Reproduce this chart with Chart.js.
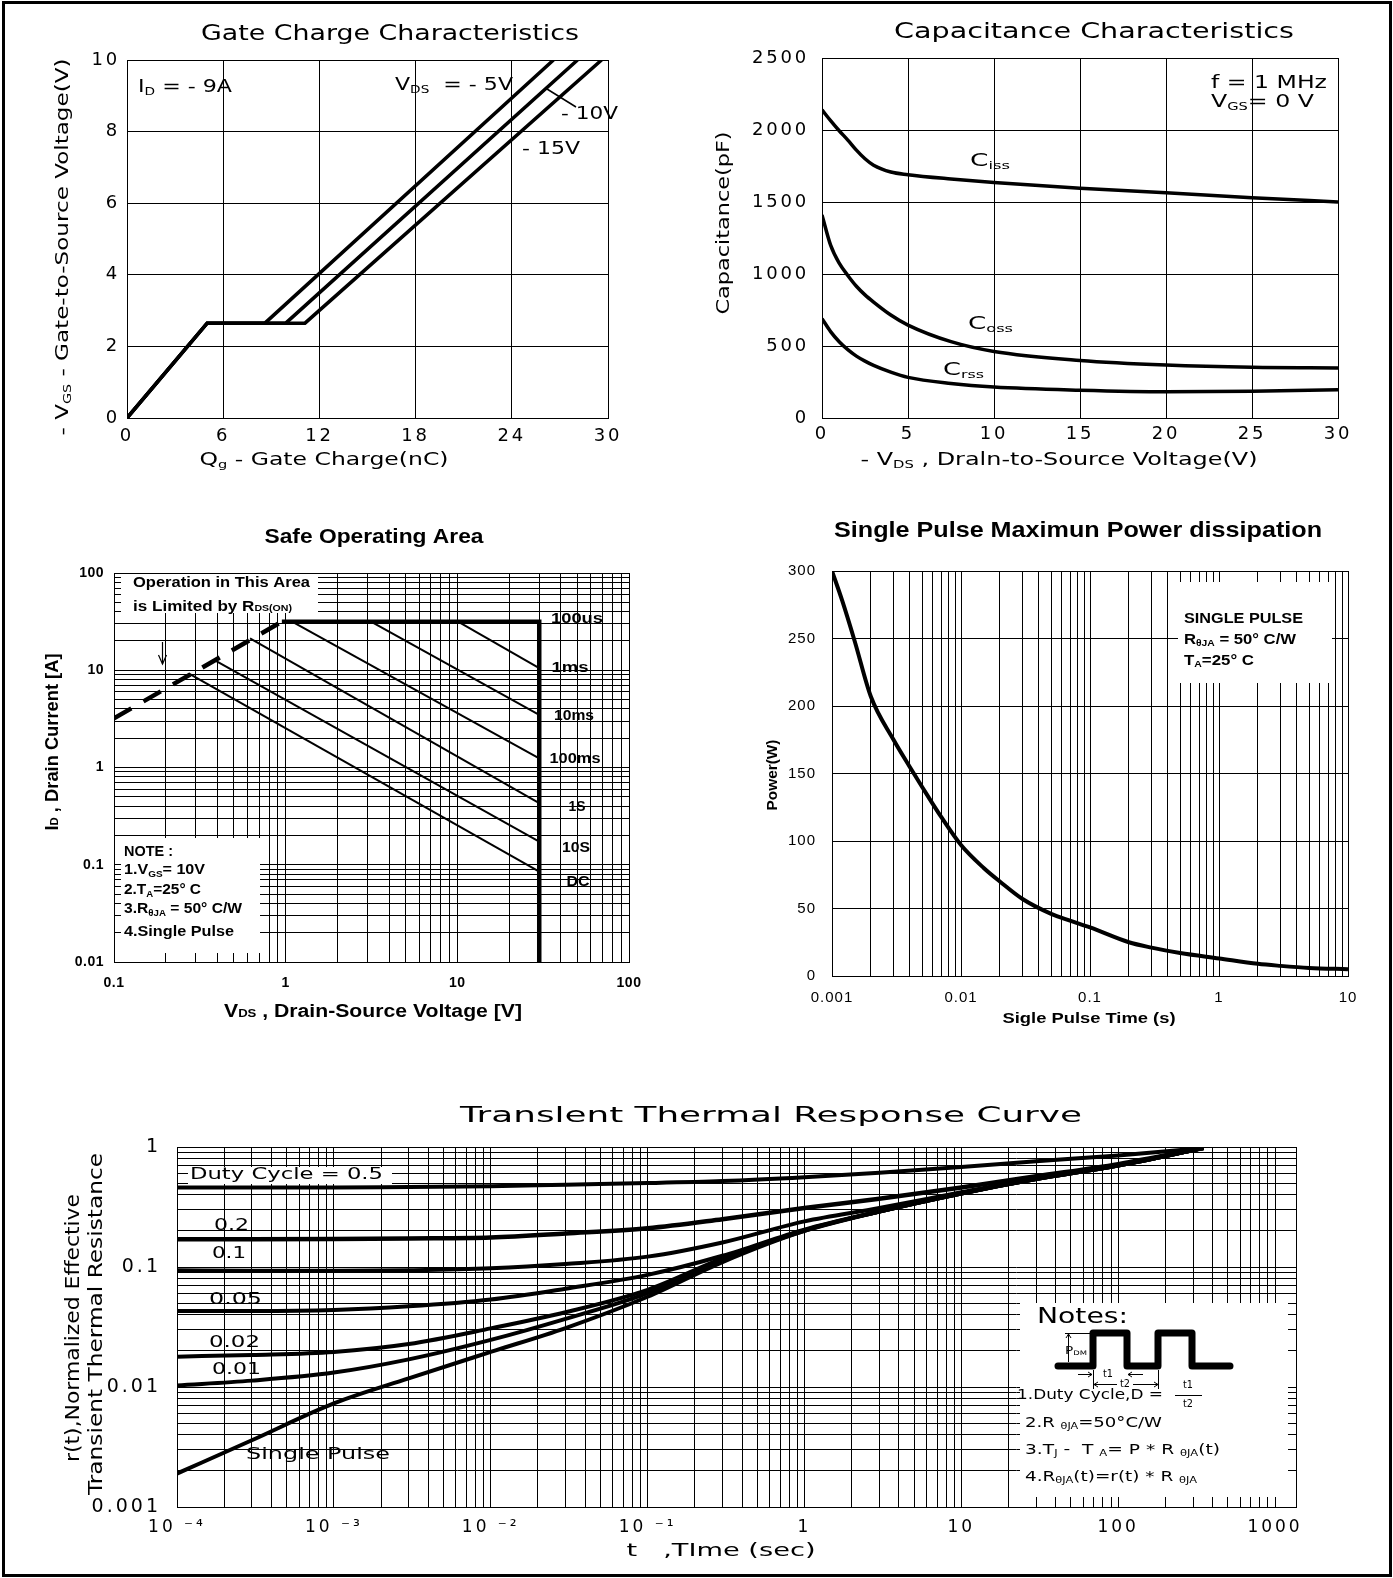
<!DOCTYPE html>
<html>
<head>
<meta charset="utf-8">
<title>MOSFET characteristics</title>
<script src="https://cdn.jsdelivr.net/npm/chart.js@4.4.1/dist/chart.umd.min.js"></script>
<style>
  body { margin: 0; background: #fff; }
  #page { position: relative; width: 1393px; height: 1578px; overflow: hidden; background: #fff; }
  #page canvas { position: absolute; left: 0; top: 0; }
  #frame { position: absolute; left: 2px; top: 1px; width: 1390px; height: 1576px; border: 3px solid #000; box-sizing: border-box; }
</style>
</head>
<body>
<div id="page">
  <canvas id="gate" width="1393" height="1578"></canvas>
  <canvas id="cap" width="1393" height="1578"></canvas>
  <canvas id="soa" width="1393" height="1578"></canvas>
  <canvas id="power" width="1393" height="1578"></canvas>
  <canvas id="trans" width="1393" height="1578"></canvas>
  <div id="frame"></div>
</div>
<script>
//Gate charge (Qg nC -> Vgs V), one x list per Vds curve
const gateQ5 = [0, 5, 8.6, 26.6];
const gateQ10 = [0, 5, 9.9, 28.1];
const gateQ15 = [0, 5, 11.1, 29.6];
const gateVgs = [0, 2.65, 2.65, 10];

//Capacitance (pF) vs -Vds
const capVds = [0, 0.5, 1, 1.5, 2, 2.5, 3, 4, 5, 7.5, 10, 15, 20, 25, 30];
const ciss = [2140, 2065, 1995, 1930, 1860, 1800, 1755, 1708, 1690, 1660, 1635, 1595, 1565, 1530, 1500];
const coss = [1410, 1200, 1075, 990, 915, 855, 805, 715, 645, 530, 462, 400, 368, 352, 348];
const crss = [690, 600, 530, 475, 430, 395, 365, 318, 282, 240, 215, 193, 182, 186, 196];

//Safe operating area (Vds V, Id A)
const soaRdsV = [0.1, 0.95];
const soaRdsI = [3.2, 31.6];
const soaLimV = [0.95, 30, 30];
const soaLimI = [31.6, 31.6, 0.01];
const soa1msV = [10.1, 30];
const soa1msI = [31.6, 10.5];
const soa10msV = [3.14, 30];
const soa10msI = [31.6, 3.47];
const soa100msV = [1.09, 30];
const soa100msI = [31.6, 1.24];
const soa1sV = [0.62, 30];
const soa1sI = [21.3, 0.43];
const soa10sV = [0.385, 30];
const soa10sI = [12.7, 0.173];
const soaDcV = [0.272, 30];
const soaDcI = [9.3, 0.085];
const soaXDecades = [0.1, 1, 10, 100];
const soaXLabels = ["0.1", "1", "10", "100"];
const soaYDecades = [0.01, 0.1, 1, 10, 100];
const soaYLabels = ["0.01", "0.1", "1", "10", "100"];

//Single pulse power
const powT = [0.001, 0.0012, 0.0015, 0.002, 0.003, 0.004, 0.005, 0.007, 0.01, 0.015, 0.02, 0.03, 0.05, 0.07, 0.1, 0.2, 0.3, 0.5, 1, 2, 3, 5, 10];
const powP = [300, 278, 248, 207, 175, 155, 140, 118, 97, 80, 70, 57, 46, 41, 36, 25, 21, 17, 13, 9, 7.5, 6, 5];
const powXDecades = [0.001, 0.01, 0.1, 1, 10];
const powXLabels = ["0.001", "0.01", "0.1", "1", "10"];

//Transient thermal response
const trT = [1e-4, 3e-4, 1e-3, 3e-3, 1e-2, 3e-2, 0.1, 0.3, 1, 3, 10, 30, 100, 350];
const trD05 = [0.46, 0.46, 0.46, 0.465, 0.47, 0.485, 0.5, 0.52, 0.56, 0.61, 0.68, 0.76, 0.85, 0.98];
const trD02 = [0.17, 0.17, 0.171, 0.173, 0.176, 0.19, 0.21, 0.25, 0.31, 0.37, 0.46, 0.57, 0.72, 0.98];
const trD01 = [0.094, 0.093, 0.093, 0.094, 0.0975, 0.106, 0.122, 0.16, 0.24, 0.31, 0.42, 0.55, 0.71, 0.98];
const trD005 = [0.043, 0.043, 0.0438, 0.047, 0.0536, 0.066, 0.086, 0.124, 0.205, 0.29, 0.41, 0.54, 0.7, 0.98];
const trD002 = [0.0179, 0.0185, 0.0196, 0.0228, 0.0308, 0.042, 0.0645, 0.118, 0.203, 0.29, 0.41, 0.54, 0.7, 0.98];
const trD001 = [0.0103, 0.0113, 0.0132, 0.017, 0.0247, 0.037, 0.0606, 0.115, 0.2, 0.29, 0.41, 0.54, 0.7, 0.98];
const trSingle = [0.0019, 0.0036, 0.0073, 0.0118, 0.0196, 0.031, 0.0565, 0.11, 0.2, 0.29, 0.41, 0.54, 0.7, 0.98];
const trXDecades = [1e-4, 1e-3, 1e-2, 1e-1, 1, 10, 100, 1000];
const trXLabels = ["10 \u207B\u2074", "10 \u207B\u00B3", "10 \u207B\u00B2", "10 \u207B\u00B9", "1", "10", "100", "1000"];
const trYDecades = [0.001, 0.01, 0.1, 1];
const trYLabels = ["0.001", "0.01", "0.1", "1"];

const MINOR = [1, 2, 3, 4, 5, 6, 7, 8, 9];

const W = 1393, H = 1578, YW = 100, XH = 40;
const DV = "DejaVu Sans", LB = "Liberation Sans";

//helpers
const xy = (xs, ys) => xs.map((x, i) => ({ x, y: ys[i] }));

const line = (xs, ys, width, extra) => Object.assign({
  data: xy(xs, ys),
  borderColor: "#000",
  borderWidth: width,
  pointRadius: 0,
  fill: false,
  tension: 0,
}, extra || {});

const smooth = { cubicInterpolationMode: "monotone" };

//all grid positions of a log axis: 1..9 in each decade, plus the last decade
const logTicks = decades => {
  const out = [];
  decades.slice(0, -1).forEach(d => MINOR.forEach(m => out.push(d * m)));
  out.push(decades[decades.length - 1]);
  return out;
};

const decadeLabel = (decades, labels) => v => {
  const i = decades.findIndex(d => Math.abs(v / d - 1) < 1e-6);
  return i >= 0 ? labels[i] : "";
};

const gridOpts = { color: "#000", lineWidth: 1, drawTicks: false };
const borderOpts = { color: "#000", width: 1 };

const axis = (type, min, max, ticks, extra) => Object.assign({
  type, min, max,
  grid: gridOpts,
  border: borderOpts,
  ticks: Object.assign({ color: "#000", autoSkip: false, maxRotation: 0 }, ticks),
}, extra || {});

const logAxis = (min, max, list, labelFn, ticks) =>
  axis("logarithmic", min, max, Object.assign({ callback: labelFn }, ticks), {
    afterBuildTicks: s => { s.ticks = list.map(v => ({ value: v })); },
  });

//text with subscripts, stretched to the width it has in the picture
function drawText(ctx, parts, x, y, o) {
  if (typeof parts === "string") parts = [[parts]];
  const fam = o.family || DV;
  const wt = o.bold ? "bold " : "";
  ctx.save();
  ctx.letterSpacing = "0px";
  const segs = parts.map(([t, k]) => {
    const s = k ? o.size * 0.62 : o.size;
    const dy = k === "sub" ? o.size * 0.28 : k === "sup" ? -o.size * 0.35 : k === "small" ? o.size * 0.12 : 0;
    const font = wt + s + 'px "' + fam + '"';
    ctx.font = font;
    return { t, font, dy, w: ctx.measureText(t).width };
  });
  const nat = segs.reduce((a, s) => a + s.w, 0);
  const sx = o.w ? o.w / nat : 1;
  ctx.translate(x, y);
  if (o.rot) ctx.rotate(o.rot);
  ctx.scale(sx, 1);
  let cx = o.align === "left" ? 0 : -nat / 2;
  ctx.fillStyle = "#000";
  ctx.textBaseline = "middle";
  ctx.textAlign = "left";
  segs.forEach(s => {
    ctx.font = s.font;
    ctx.fillText(s.t, cx, s.dy);
    cx += s.w;
  });
  ctx.restore();
}

function seg(ctx, pts, lw) {
  ctx.beginPath();
  ctx.lineWidth = lw || 1;
  ctx.strokeStyle = "#000";
  pts.forEach((p, i) => (i ? ctx.lineTo(p[0], p[1]) : ctx.moveTo(p[0], p[1])));
  ctx.stroke();
}

function whiteBox(ctx, x0, y0, x1, y1) {
  ctx.fillStyle = "#fff";
  ctx.fillRect(x0, y0, x1 - x0, y1 - y0);
}

//letter spacing for the library's tick labels, white boxes under the lines, texts on top
const deco = (spacing, under, over) => ({
  id: "deco",
  beforeLayout(chart) { chart.ctx.letterSpacing = spacing + "px"; },
  beforeDraw(chart) { chart.ctx.letterSpacing = spacing + "px"; },
  beforeDatasetsDraw(chart) {
    const ctx = chart.ctx;
    const a = chart.chartArea;
    ctx.save();
    ctx.letterSpacing = "0px";
    if (under) under(chart, ctx);
    ctx.lineWidth = 1;
    ctx.strokeStyle = "#000";
    ctx.strokeRect(a.left + 0.5, a.top + 0.5, a.right - a.left, a.bottom - a.top);
    ctx.restore();
  },
  afterDraw(chart) {
    const ctx = chart.ctx;
    ctx.save();
    ctx.letterSpacing = "0px";
    if (over) over(chart, ctx);
    ctx.restore();
  },
});

const baseOptions = (area, x, y) => ({
  responsive: false,
  animation: false,
  devicePixelRatio: 1,
  events: [],
  layout: { padding: { left: area.l - YW, top: area.t, right: W - area.r, bottom: H - area.b - XH } },
  scales: {
    x: Object.assign(x, { afterFit: s => { s.height = XH; } }),
    y: Object.assign(y, { afterFit: s => { s.width = YW; } }),
  },
  plugins: { legend: { display: false }, tooltip: { enabled: false }, title: { display: false } },
});

const plain = v => String(v);

//Gate Charge Characteristics
new Chart(document.getElementById("gate"), {
  type: "line",
  data: {
    datasets: [
      line(gateQ5, gateVgs, 3.5),
      line(gateQ10, gateVgs, 3.5),
      line(gateQ15, gateVgs, 3.5),
    ],
  },
  options: baseOptions({ l: 127, r: 608, t: 60, b: 418 },
    axis("linear", 0, 30, { stepSize: 6, padding: 8, callback: plain, font: { family: DV, size: 18 } }),
    axis("linear", 0, 10, { stepSize: 2, padding: 7, callback: plain, font: { family: DV, size: 18 } })),
  plugins: [deco(2.8, null, (c, ctx) => {
    drawText(ctx, "Gate Charge Characteristics", 390, 35, { size: 21, w: 378 });
    drawText(ctx, [["Q"], ["g", "sub"], [" - Gate Charge(nC)"]], 324, 460, { size: 18, w: 249 });
    drawText(ctx, [["- V"], ["GS", "sub"], [" - Gate-to-Source Voltage(V)"]], 63, 247, { size: 18, w: 377, rot: -Math.PI / 2 });
    drawText(ctx, [["I"], ["D", "sub"], [" = - 9A"]], 138, 87, { size: 18, w: 94, align: "left" });
    drawText(ctx, [["V"], ["DS", "sub"], ["  = - 5V"]], 395, 85, { size: 18, w: 118, align: "left" });
    drawText(ctx, "- 10V", 561, 114, { size: 18, w: 57, align: "left" });
    drawText(ctx, "- 15V", 522, 149, { size: 18, w: 58, align: "left" });
    seg(ctx, [[547, 89], [576, 107]], 1.5);
  })],
});

//Capacitance Characteristics
new Chart(document.getElementById("cap"), {
  type: "line",
  data: {
    datasets: [
      line(capVds, ciss, 3.5, smooth),
      line(capVds, coss, 3.5, smooth),
      line(capVds, crss, 3.5, smooth),
    ],
  },
  options: baseOptions({ l: 822, r: 1338, t: 58, b: 418 },
    axis("linear", 0, 30, { stepSize: 5, padding: 6, callback: plain, font: { family: DV, size: 18 } }),
    axis("linear", 0, 2500, { stepSize: 500, padding: 13, callback: plain, font: { family: DV, size: 18 } })),
  plugins: [deco(2.8, null, (c, ctx) => {
    drawText(ctx, "Capacitance Characteristics", 1094, 33, { size: 21, w: 400 });
    drawText(ctx, [["- V"], ["DS", "sub"], [" , Draln-to-Source Voltage(V)"]], 1059, 460, { size: 18, w: 397 });
    drawText(ctx, "Capacitance(pF)", 724, 223, { size: 18, w: 183, rot: -Math.PI / 2 });
    drawText(ctx, [["C"], ["iss", "sub"]], 970, 161, { size: 18, w: 40, align: "left" });
    drawText(ctx, [["C"], ["oss", "sub"]], 968, 324, { size: 18, w: 45, align: "left" });
    drawText(ctx, [["C"], ["rss", "sub"]], 943, 370, { size: 18, w: 41, align: "left" });
    drawText(ctx, "f = 1 MHz", 1211, 83, { size: 18, w: 116, align: "left" });
    drawText(ctx, [["V"], ["GS", "sub"], ["= 0 V"]], 1211, 102, { size: 18, w: 103, align: "left" });
  })],
});

//Safe Operating Area
new Chart(document.getElementById("soa"), {
  type: "line",
  data: {
    datasets: [
      line(soaRdsV, soaRdsI, 4.5, { borderDash: [20, 14] }),
      line(soaLimV, soaLimI, 4.5),
      line(soa1msV, soa1msI, 2),
      line(soa10msV, soa10msI, 2),
      line(soa100msV, soa100msI, 2),
      line(soa1sV, soa1sI, 2),
      line(soa10sV, soa10sI, 2),
      line(soaDcV, soaDcI, 2),
    ],
  },
  options: baseOptions({ l: 114, r: 629, t: 573, b: 962 },
    logAxis(0.1, 100, logTicks(soaXDecades), decadeLabel(soaXDecades, soaXLabels),
      { padding: 13, font: { family: LB, size: 14, weight: "bold" } }),
    logAxis(0.01, 100, logTicks(soaYDecades), decadeLabel(soaYDecades, soaYLabels),
      { padding: 10, font: { family: LB, size: 14, weight: "bold" } })),
  plugins: [deco(0.5, (c, ctx) => {
    whiteBox(ctx, 121, 574, 318, 613);
    whiteBox(ctx, 121, 838, 260, 953);
  }, (c, ctx) => {
    const b = { family: LB, bold: true };
    drawText(ctx, "Safe Operating Area", 374, 537, Object.assign({ size: 21, w: 219 }, b));
    drawText(ctx, [["V"], ["DS", "small"], [" , Drain-Source Voltage [V]"]], 373, 1012, Object.assign({ size: 18, w: 298 }, b));
    drawText(ctx, [["I"], ["D", "small"], [" , Drain Current [A]"]], 53, 742, Object.assign({ size: 18, w: 177, rot: -Math.PI / 2 }, b));
    drawText(ctx, "Operation in This Area", 133, 583, Object.assign({ size: 15, w: 177, align: "left" }, b));
    drawText(ctx, [["is Limited by R"], ["DS(ON)", "small"]], 133, 607, Object.assign({ size: 15, w: 159, align: "left" }, b));
    drawText(ctx, "NOTE :", 124, 852, Object.assign({ size: 15, w: 49, align: "left" }, b));
    drawText(ctx, [["1.V"], ["GS", "sub"], ["= 10V"]], 124, 870, Object.assign({ size: 15, w: 81, align: "left" }, b));
    drawText(ctx, [["2.T"], ["A", "sub"], ["=25\u00B0 C"]], 124, 890, Object.assign({ size: 15, w: 77, align: "left" }, b));
    drawText(ctx, [["3.R"], ["\u03B8JA", "sub"], [" = 50\u00B0 C/W"]], 124, 909, Object.assign({ size: 15, w: 118, align: "left" }, b));
    drawText(ctx, "4.Single Pulse", 124, 932, Object.assign({ size: 15, w: 110, align: "left" }, b));
    drawText(ctx, "100us", 577, 619, Object.assign({ size: 15, w: 52 }, b));
    drawText(ctx, "1ms", 570, 668, Object.assign({ size: 15, w: 37 }, b));
    drawText(ctx, "10ms", 574, 716, Object.assign({ size: 15, w: 40 }, b));
    drawText(ctx, "100ms", 575, 759, Object.assign({ size: 15, w: 51 }, b));
    drawText(ctx, "1S", 577, 807, Object.assign({ size: 15, w: 17 }, b));
    drawText(ctx, "10S", 576, 848, Object.assign({ size: 15, w: 28 }, b));
    drawText(ctx, "DC", 578, 882, Object.assign({ size: 15, w: 23 }, b));
    const ax = Math.round(c.scales.x.getPixelForValue(0.19)) + 0.5;
    seg(ctx, [[ax, 642], [ax, 664]], 1.2);
    seg(ctx, [[ax - 4, 655], [ax, 664], [ax + 4, 655]], 1.2);
  })],
});

//Single Pulse Maximun Power dissipation
new Chart(document.getElementById("power"), {
  type: "line",
  data: { datasets: [line(powT, powP, 4, smooth)] },
  options: baseOptions({ l: 832, r: 1348, t: 571, b: 976 },
    logAxis(0.001, 10, logTicks(powXDecades), decadeLabel(powXDecades, powXLabels),
      { padding: 13, font: { family: LB, size: 15 } }),
    axis("linear", 0, 300, { stepSize: 50, padding: 16, callback: plain, font: { family: LB, size: 15 } })),
  plugins: [deco(1, (c, ctx) => {
    whiteBox(ctx, 1178, 582, 1332, 683);
  }, (c, ctx) => {
    const b = { family: LB, bold: true };
    drawText(ctx, "Single Pulse Maximun Power dissipation", 1078, 531, Object.assign({ size: 22, w: 488 }, b));
    drawText(ctx, "Sigle Pulse Time (s)", 1089, 1019, Object.assign({ size: 15, w: 173 }, b));
    drawText(ctx, "Power(W)", 773, 775, Object.assign({ size: 15, w: 71, rot: -Math.PI / 2 }, b));
    drawText(ctx, "SINGLE PULSE", 1184, 619, Object.assign({ size: 14, w: 119, align: "left" }, b));
    drawText(ctx, [["R"], ["\u03B8JA", "sub"], [" = 50\u00B0 C/W"]], 1184, 640, Object.assign({ size: 14, w: 112, align: "left" }, b));
    drawText(ctx, [["T"], ["A", "sub"], ["=25\u00B0 C"]], 1184, 661, Object.assign({ size: 14, w: 70, align: "left" }, b));
  })],
});

//Transient Thermal Response Curve
new Chart(document.getElementById("trans"), {
  type: "line",
  data: {
    datasets: [
      line(trT, trD05, 4, smooth),
      line(trT, trD02, 4.5, smooth),
      line(trT, trD01, 4, smooth),
      line(trT, trD005, 4, smooth),
      line(trT, trD002, 4, smooth),
      line(trT, trD001, 4, smooth),
      line(trT, trSingle, 4, smooth),
    ],
  },
  options: baseOptions({ l: 177, r: 1296, t: 1147, b: 1507 },
    logAxis(1e-4, 1360, logTicks(trXDecades), decadeLabel(trXDecades, trXLabels),
      { padding: 10, font: { family: DV, size: 17 } }),
    logAxis(0.001, 1, logTicks(trYDecades), decadeLabel(trYDecades, trYLabels),
      { padding: 16, font: { family: DV, size: 19 } })),
  plugins: [deco(3, (c, ctx) => {
    whiteBox(ctx, 188, 1167, 392, 1184);
    whiteBox(ctx, 1020, 1303, 1288, 1497);
  }, (c, ctx) => {
    drawText(ctx, "Translent Thermal Response Curve", 771, 1117, { size: 21, w: 622 });
    drawText(ctx, "t   ,TIme (sec)", 721, 1551, { size: 18, w: 189 });
    drawText(ctx, "r(t),Normalized Effective", 74, 1328, { size: 19, w: 268, rot: -Math.PI / 2 });
    drawText(ctx, "Transient Thermal Resistance", 97, 1324, { size: 19, w: 342, rot: -Math.PI / 2 });
    drawText(ctx, "Duty Cycle = 0.5", 190, 1175, { size: 15, w: 193, align: "left" });
    drawText(ctx, "0.2", 214, 1226, { size: 15, w: 35, align: "left" });
    drawText(ctx, "0.1", 212, 1254, { size: 15, w: 34, align: "left" });
    drawText(ctx, "0.05", 209, 1300, { size: 15, w: 53, align: "left" });
    drawText(ctx, "0.02", 209, 1343, { size: 15, w: 51, align: "left" });
    drawText(ctx, "0.01", 212, 1370, { size: 15, w: 49, align: "left" });
    drawText(ctx, "Single Pulse", 246, 1455, { size: 15, w: 144, align: "left" });

    //notes panel
    drawText(ctx, "Notes:", 1037, 1318, { size: 21, w: 91, align: "left" });
    ctx.save();
    ctx.lineJoin = "round";
    ctx.lineCap = "round";
    seg(ctx, [[1058, 1366], [1093, 1366], [1093, 1333], [1127, 1333], [1127, 1366],
      [1158, 1366], [1158, 1333], [1192, 1333], [1192, 1366], [1230, 1366]], 7);
    ctx.restore();
    seg(ctx, [[1065, 1333.5], [1090, 1333.5]], 1);
    seg(ctx, [[1068.5, 1334], [1068.5, 1362]], 1);
    seg(ctx, [[1066, 1338], [1068.5, 1334], [1071, 1338]], 1);
    drawText(ctx, [["P"], ["DM", "sub"]], 1076, 1351, { size: 10, w: 22 });
    seg(ctx, [[1078, 1374.5], [1092, 1374.5]], 1);
    seg(ctx, [[1088, 1372], [1092, 1374.5], [1088, 1377]], 1);
    drawText(ctx, "t1", 1108, 1374, { size: 10, w: 10 });
    seg(ctx, [[1128, 1374.5], [1143, 1374.5]], 1);
    seg(ctx, [[1132, 1372], [1128, 1374.5], [1132, 1377]], 1);
    seg(ctx, [[1093.5, 1370], [1093.5, 1389]], 1);
    seg(ctx, [[1158.5, 1370], [1158.5, 1389]], 1);
    seg(ctx, [[1094, 1384.5], [1117, 1384.5]], 1);
    seg(ctx, [[1098, 1382], [1094, 1384.5], [1098, 1387]], 1);
    drawText(ctx, "t2", 1125, 1384, { size: 10, w: 10 });
    seg(ctx, [[1133, 1384.5], [1158, 1384.5]], 1);
    seg(ctx, [[1154, 1382], [1158, 1384.5], [1154, 1387]], 1);
    drawText(ctx, "1.Duty Cycle,D =", 1017, 1395, { size: 14, w: 146, align: "left" });
    drawText(ctx, "t1", 1188, 1385, { size: 10, w: 10 });
    seg(ctx, [[1175, 1395.5], [1202, 1395.5]], 1);
    drawText(ctx, "t2", 1188, 1404, { size: 10, w: 10 });
    drawText(ctx, [["2.R "], ["\u03B8JA", "sub"], ["=50\u00B0C/W"]], 1025, 1423, { size: 14, w: 137, align: "left" });
    drawText(ctx, [["3.T"], ["J", "sub"], [" -  T "], ["A", "sub"], ["= P * R "], ["\u03B8JA", "sub"], ["(t)"]], 1025, 1450, { size: 14, w: 195, align: "left" });
    drawText(ctx, [["4.R"], ["\u03B8JA", "sub"], ["(t)=r(t) * R "], ["\u03B8JA", "sub"]], 1025, 1477, { size: 14, w: 172, align: "left" });
  })],
});
</script>
</body>
</html>
